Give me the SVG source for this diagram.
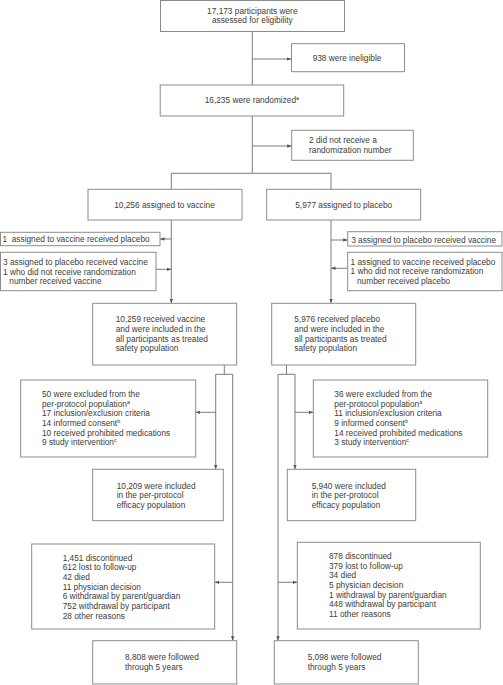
<svg xmlns="http://www.w3.org/2000/svg" width="503" height="685" viewBox="0 0 503 685">
<style>
rect{fill:#fff;stroke:#8c8c8c;stroke-width:1}
text{font-family:"Liberation Sans",Arial,sans-serif;font-size:8.3px;fill:#3c3c3c}
.c{text-anchor:middle}
.ln{fill:none;stroke:#6e6e6e;stroke-width:0.9}
.ar{marker-end:url(#ah)}
.sup{font-size:5.5px}
</style>
<defs>
<marker id="ah" markerUnits="userSpaceOnUse" markerWidth="5" markerHeight="4" refX="4.5" refY="2" orient="auto">
<path d="M0,0.3 L4.5,2 L0,3.7 Z" fill="#555"/>
</marker>
</defs>
<rect x="0" y="0" width="503" height="685" style="stroke:none"/>
<g id="connectors">
<path class="ln" d="M252.3,31.3 V85"/>
<path class="ln ar" d="M252.3,59 H291.3"/>
<path class="ln" d="M252.3,116 V173.3"/>
<path class="ln ar" d="M252.3,146 H291.7"/>
<path class="ln" d="M171.3,189.3 V173.3 H331 V189.3"/>
<path class="ln ar" d="M171.3,220 V303.3"/>
<path class="ln ar" d="M171.3,239 H160"/>
<path class="ln ar" d="M156,269.3 H171.3"/>
<path class="ln ar" d="M331,220 V303.3"/>
<path class="ln ar" d="M331,240 H347.7"/>
<path class="ln ar" d="M347.7,268.3 H331"/>
<path class="ln" d="M224.3,365 V374.3 M215.7,374.3 H232.7"/>
<path class="ln ar" d="M215.7,374.3 V469.3"/>
<path class="ln ar" d="M232.7,374.3 V640.7"/>
<path class="ln ar" d="M215.7,412.3 H195.7"/>
<path class="ln ar" d="M232.7,582.3 H214.7"/>
<path class="ln" d="M286.5,365 V374.3 M278,374.3 H295"/>
<path class="ln ar" d="M295,374.3 V469.3"/>
<path class="ln ar" d="M278,374.3 V640.7"/>
<path class="ln ar" d="M295,412.3 H313.3"/>
<path class="ln ar" d="M278,582.3 H297.3"/>
</g>
<g id="assessed">
<rect x="160.5" y="0.5" width="184" height="31"/>
<text class="c" x="252.3" y="13.5">17,173 participants were</text>
<text class="c" x="252.3" y="23">assessed for eligibility</text>
</g>
<g id="ineligible">
<rect x="291.5" y="43.7" width="113" height="28"/>
<text class="c" x="347" y="61">938 were ineligible</text>
</g>
<g id="randomized">
<rect x="160.2" y="85" width="183.5" height="31"/>
<text class="c" x="252" y="103">16,235 were randomized*</text>
</g>
<g id="no-randnum">
<rect x="291.7" y="130.3" width="121.6" height="30"/>
<text x="309" y="142.8">2 did not receive a</text>
<text x="309" y="152.6">randomization number</text>
</g>
<g id="assigned-vaccine">
<rect x="88" y="189.3" width="154" height="30.7"/>
<text class="c" x="164.5" y="207.8">10,256 assigned to vaccine</text>
</g>
<g id="assigned-placebo">
<rect x="266.7" y="189.3" width="154" height="30.7"/>
<text class="c" x="343.7" y="207.8">5,977 assigned to placebo</text>
</g>
<g id="vac-to-pla">
<rect x="0.5" y="232.3" width="159.5" height="13.4"/>
<text x="2.5" y="241.8" xml:space="preserve">1  assigned to vaccine received placebo</text>
</g>
<g id="pla-to-vac-left">
<rect x="0.5" y="252.3" width="155.5" height="38.4"/>
<text x="3" y="265">3 assigned to placebo received vaccine</text>
<text x="3" y="274.6">1 who did not receive randomization</text>
<text x="9.3" y="284.2">number received vaccine</text>
</g>
<g id="pla-to-vac-right">
<rect x="347.7" y="231.7" width="154.3" height="14.3"/>
<text x="351.2" y="242.6">3 assigned to placebo received vaccine</text>
</g>
<g id="vac-to-pla-right">
<rect x="347.7" y="252.3" width="154.3" height="38.4"/>
<text x="350.5" y="264.8">1 assigned to vaccine received placebo</text>
<text x="350.5" y="274.4">1 who did not receive randomization</text>
<text x="357" y="284">number received placebo</text>
</g>
<g id="received-vaccine">
<rect x="92.7" y="303.3" width="144" height="61.7"/>
<text x="115.7" y="322.1">10,259 received vaccine</text>
<text x="115.7" y="331.8">and were included in the</text>
<text x="115.7" y="341.5">all participants as treated</text>
<text x="115.7" y="351.2">safety population</text>
</g>
<g id="received-placebo">
<rect x="271.7" y="303.3" width="144" height="61.7"/>
<text x="294.3" y="322.1">5,976 received placebo</text>
<text x="294.3" y="331.8">and were included in the</text>
<text x="294.3" y="341.5">all participants as treated</text>
<text x="294.3" y="351.2">safety population</text>
</g>
<g id="excluded-vaccine">
<rect x="20.7" y="380" width="175" height="77"/>
<text x="42" y="396.8">50 were excluded from the</text>
<text x="42" y="406.5">per-protocol population<tspan class="sup" dy="-3">a</tspan></text>
<text x="42" y="416.2">17 inclusion/exclusion criteria</text>
<text x="42" y="425.9">14 informed consent<tspan class="sup" dy="-3">b</tspan></text>
<text x="42" y="435.6">10 received prohibited medications</text>
<text x="42" y="445.3">9 study intervention<tspan class="sup" dy="-3">c</tspan></text>
</g>
<g id="excluded-placebo">
<rect x="313.3" y="380" width="174.4" height="77"/>
<text x="334.3" y="396.8">36 were excluded from the</text>
<text x="334.3" y="406.5">per-protocol population<tspan class="sup" dy="-3">a</tspan></text>
<text x="334.3" y="416.2">11 inclusion/exclusion criteria</text>
<text x="334.3" y="425.9">9 informed consent<tspan class="sup" dy="-3">b</tspan></text>
<text x="334.3" y="435.6">14 received prohibited medications</text>
<text x="334.3" y="445.3">3 study intervention<tspan class="sup" dy="-3">c</tspan></text>
</g>
<g id="pp-vaccine">
<rect x="92.7" y="469.3" width="130.6" height="51.4"/>
<text x="116.7" y="488.5">10,209 were included</text>
<text x="116.7" y="498">in the per-protocol</text>
<text x="116.7" y="507.5">efficacy population</text>
</g>
<g id="pp-placebo">
<rect x="287.3" y="469.3" width="128.4" height="51.4"/>
<text x="311.7" y="488.5">5,940 were included</text>
<text x="311.7" y="498">in the per-protocol</text>
<text x="311.7" y="507.5">efficacy population</text>
</g>
<g id="discontinued-vaccine">
<rect x="31.7" y="544" width="183" height="85"/>
<text x="62.7" y="560.5">1,451 discontinued</text>
<text x="62.7" y="570.2">612 lost to follow-up</text>
<text x="62.7" y="579.8">42 died</text>
<text x="62.7" y="589.5">11 physician decision</text>
<text x="62.7" y="599.2">6 withdrawal by parent/guardian</text>
<text x="62.7" y="608.8">752 withdrawal by participant</text>
<text x="62.7" y="618.5">28 other reasons</text>
</g>
<g id="discontinued-placebo">
<rect x="297.3" y="542.3" width="183" height="86.7"/>
<text x="329" y="559.1">878 discontinued</text>
<text x="329" y="568.8">379 lost to follow-up</text>
<text x="329" y="578.4">34 died</text>
<text x="329" y="588.1">5 physician decision</text>
<text x="329" y="597.8">1 withdrawal by parent/guardian</text>
<text x="329" y="607.4">448 withdrawal by participant</text>
<text x="329" y="617.1">11 other reasons</text>
</g>
<g id="followed-vaccine">
<rect x="92.7" y="640.7" width="144" height="43.3"/>
<text x="125" y="660">8,808 were followed</text>
<text x="125" y="669.7">through 5 years</text>
</g>
<g id="followed-placebo">
<rect x="274.3" y="640.7" width="144" height="43.3"/>
<text x="307.7" y="660">5,098 were followed</text>
<text x="307.7" y="669.7">through 5 years</text>
</g>
</svg>
